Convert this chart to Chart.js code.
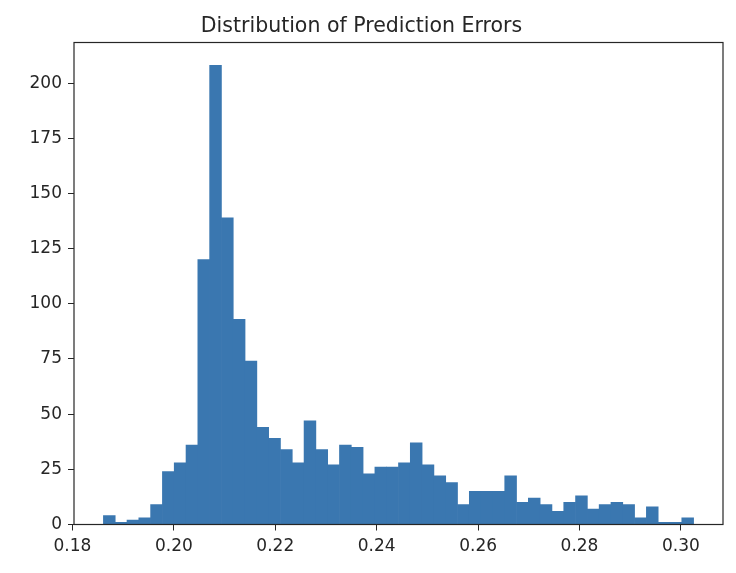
<!DOCTYPE html>
<html lang="en">
<head>
    <meta charset="UTF-8">
    <title>Distribution of Prediction Errors</title>
    <script src="https://cdn.jsdelivr.net/npm/chart.js"></script>
    <style>
        html, body {
            margin: 0;
            padding: 0;
            background: #fff;
        }
        #wrap {
            width: 736px;
            height: 573px;
        }
    </style>
</head>
<body>
    <div id="wrap">
        <canvas id="errChart" width="736" height="573"></canvas>
    </div>
    <script>
        // histogram: 50 equal bins, counts
        const binStart = 0.1861;
        const binWidth = 0.002328;
        const counts = [
            4, 1, 2, 3, 9, 24, 28, 36, 120, 208,
            139, 93, 74, 44, 39, 34, 28, 47, 34, 27,
            36, 35, 23, 26, 26, 28, 37, 27, 22, 19,
            9, 15, 15, 15, 22, 10, 12, 9, 6, 10,
            13, 7, 9, 10, 9, 3, 8, 1, 1, 3
        ];
        const xTicks = [0.18, 0.20, 0.22, 0.24, 0.26, 0.28, 0.30];
        const yTicks = [0, 25, 50, 75, 100, 125, 150, 175, 200];

        const binCenters = counts.map((c, i) => binStart + binWidth * (i + 0.5));
        const points = counts.map((c, i) => ({ x: binCenters[i], y: c }));

        const ink = '#262626';
        const fontFamily = "'DejaVu Sans', sans-serif";

        // matplotlib style box around the plot area
        const frame = {
            id: 'frame',
            afterDraw(chart) {
                const a = chart.chartArea;
                const ctx = chart.ctx;
                ctx.save();
                ctx.strokeStyle = ink;
                ctx.lineWidth = 1.2;
                ctx.strokeRect(a.left, a.top, a.right - a.left, a.bottom - a.top);
                ctx.restore();
            }
        };

        new Chart(document.getElementById('errChart'), {
            type: 'bar',
            data: {
                datasets: [{
                    data: points,
                    backgroundColor: '#3a77b0',
                    borderWidth: 0,
                    barPercentage: 1,
                    categoryPercentage: 1
                }]
            },
            options: {
                responsive: false,
                animation: false,
                layout: { padding: { left: 0, right: 13, top: 0, bottom: 0 } },
                plugins: {
                    legend: { display: false },
                    tooltip: { enabled: false },
                    title: {
                        display: true,
                        text: 'Distribution of Prediction Errors',
                        color: ink,
                        font: { family: fontFamily, size: 20.5, weight: 'normal', lineHeight: 1.2 },
                        padding: { top: 14, bottom: 3.9 }
                    }
                },
                scales: {
                    x: {
                        type: 'linear',
                        min: 0.1803,
                        max: 0.3083,
                        offset: false,
                        afterBuildTicks: s => { s.ticks = xTicks.map(v => ({ value: v })); },
                        afterFit: s => { s.height = 48.5; },
                        grid: { display: true, offset: false, drawOnChartArea: false, drawTicks: true, tickLength: 6, color: ink },
                        border: { display: false },
                        ticks: {
                            color: ink,
                            padding: 6,
                            maxRotation: 0,
                            autoSkip: false,
                            font: { family: fontFamily, size: 17 },
                            callback: v => Number(v).toFixed(2)
                        }
                    },
                    y: {
                        min: 0,
                        max: 218.4,
                        afterBuildTicks: s => { s.ticks = yTicks.map(v => ({ value: v })); },
                        afterFit: s => { s.width = 74; },
                        grid: { display: true, offset: false, drawOnChartArea: false, drawTicks: true, tickLength: 6, color: ink },
                        border: { display: false },
                        ticks: {
                            color: ink,
                            padding: 6,
                            autoSkip: false,
                            font: { family: fontFamily, size: 17 },
                            callback: v => String(v)
                        }
                    }
                }
            },
            plugins: [frame]
        });
    </script>
</body>
</html>
